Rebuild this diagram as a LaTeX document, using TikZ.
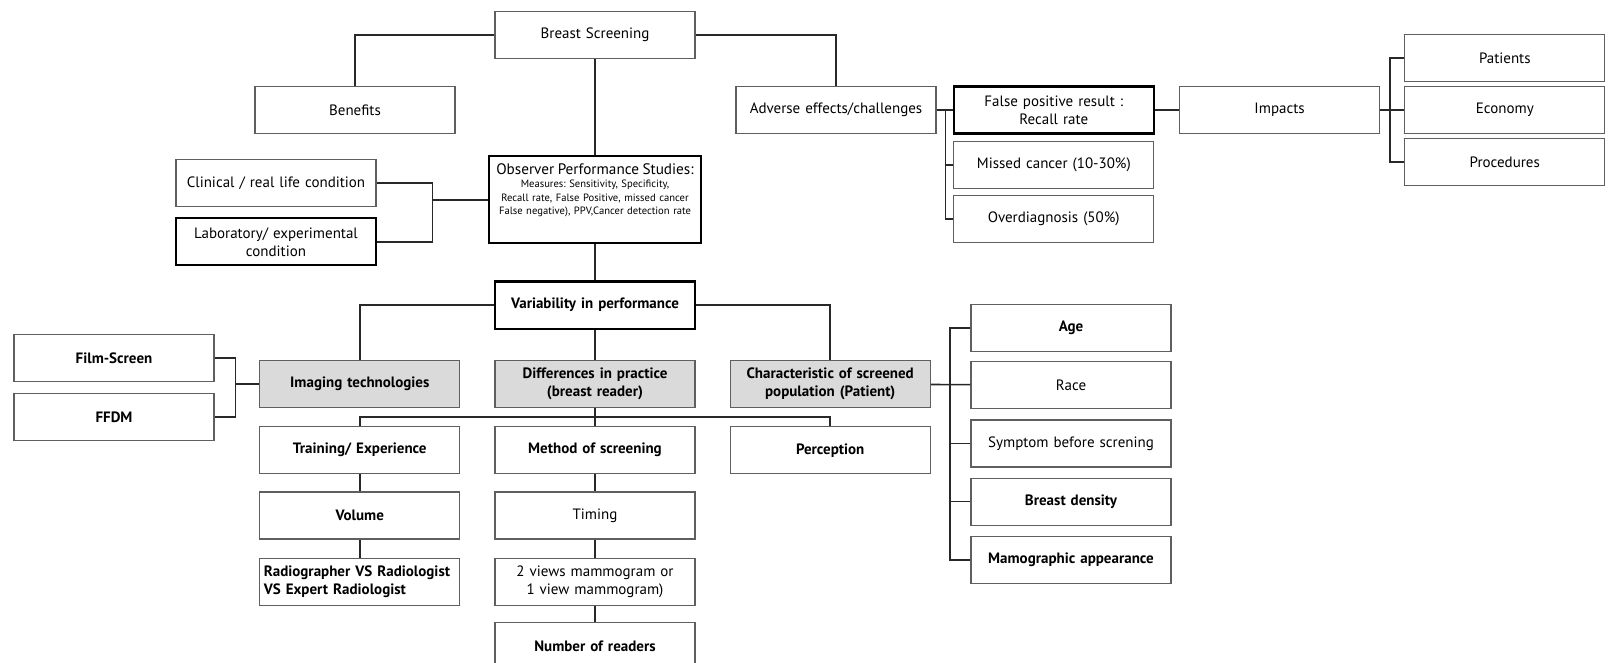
\documentclass[tikz,border=0pt]{standalone}
\usepackage{fontspec}
\setmainfont{PT Sans}
\usepackage{tikz}
\usetikzlibrary{positioning,calc}
\definecolor{boxline}{RGB}{95,95,95}
\definecolor{linkline}{RGB}{40,40,40}
\definecolor{greyfill}{RGB}{218,218,218}
\frenchspacing

\begin{document}
\begin{tikzpicture}[x=0.5pt,y=-0.5pt,
    box/.style={draw=boxline,line width=0.6pt,fill=white,align=center,
                font=\fontsize{7.5}{9}\selectfont,text width=96pt,minimum height=23.5pt,inner sep=2pt},
    heavy/.style={box,draw=black,line width=1.2pt},
    strong/.style={font=\fontsize{7.5}{9}\selectfont\bfseries},
    shaded/.style={box,strong,fill=greyfill},
    link/.style={draw=linkline,line width=0.8pt}]
  \useasboundingbox (0,0) rectangle (1611,663);
  % top row
  \node[box] (bs) at (595,35) {Breast Screening};
  \node[box] (ben) at (355,110) {Benefits};
  \node[box] (adv) at (836,110) {Adverse effects/challenges};
  \node[heavy,right=8pt of adv] (fp) {False positive result :\\Recall rate};
  \node[box,below=3pt of fp] (mc) {Missed cancer (10-30\%)};
  \node[box,below=3pt of mc] (od) {Overdiagnosis (50\%)};
  \node[box,right=12pt of fp] (imp) {Impacts};
  \node[box,right=12pt of imp] (eco) {Economy};
  \node[box,above=2pt of eco] (pat) {Patients};
  \node[box,below=2pt of eco] (pro) {Procedures};
  % middle
  \node[shaded] (dif) at (595,384) {Differences in practice\\(breast reader)};
  \node[heavy,strong,above=15pt of dif] (var) {Variability in performance};
  \node[heavy,font=\fontsize{5.3}{6.8}\selectfont,text width=102pt,minimum height=43.5pt,above=18pt of var] (obs)
       {\mbox{\fontsize{7.6}{9.5}\selectfont Observer Performance Studies:}\\
        Measures: Sensitivity, Specificity,\\
        Recall rate, False Positive, missed cancer\\
        False negative), PPV,Cancer detection rate\\[4pt]\mbox{}};
  \node[box] (cli) at (276,183) {Clinical / real life condition};
  \node[heavy,below=5pt of cli] (lab) {Laboratory/ experimental\\condition};
  \node[shaded,left=17pt of dif] (img) {Imaging technologies};
  \node[shaded,right=17pt of dif] (cha) {Characteristic of screened\\population (Patient)};
  \node[box,strong] (film) at (114,358) {Film-Screen};
  \node[box,strong,below=5.5pt of film] (ffdm) {FFDM};
  % lower rows
  \node[box,strong,below=9pt of img] (trn) {Training/ Experience};
  \node[box,strong,below=9pt of dif] (met) {Method of screening};
  \node[box,strong,below=9pt of cha] (per) {Perception};
  \node[box,strong,below=8.5pt of trn] (vol) {Volume};
  \node[box,strong,align=left,below=9pt of vol] (rad) {Radiographer VS Radiologist\\VS Expert Radiologist};
  \node[box,below=8.5pt of met] (tim) {Timing};
  \node[box,below=9pt of tim] (two) {2 views mammogram or\\1 view mammogram)};
  \node[box,strong,below=8pt of two] (nr) {Number of readers};
  \node[box,strong] (age) at (1071,328) {Age};
  \node[box,below=4.5pt of age] (race) {Race};
  \node[box,below=5pt of race] (sym) {Symptom before screning};
  \node[box,strong,below=5pt of sym] (bd) {Breast density};
  \node[box,strong,below=5pt of bd] (mam) {Mamographic appearance};
  % connectors
  \draw[link] (bs.west) -| (ben.north);
  \draw[link] (bs.east) -| (adv.north);
  \foreach \u/\v in {bs/obs,obs/var,var/dif,dif/met,trn/vol,vol/rad,met/tim,tim/two,two/nr,fp/imp,imp/eco,cha/race}
    \draw[link] (\u) -- (\v);
  \draw[link] (var.west) -| (img.north);
  \draw[link] (var.east) -| (cha.north);
  \coordinate (bus) at ($(dif.south)!0.5!(met.north)$);
  \draw[link] (trn.north) |- (bus) -| (per.north);
  \coordinate (jc) at ([xshift=28pt]cli.east);
  \draw[link] (cli.east) -- (jc) |- (lab.east);
  \draw[link] (obs.west) -- (obs.west -| jc);
  \coordinate (jf) at ([xshift=10.5pt]film.east);
  \draw[link] (film.east) -- (jf) |- (ffdm.east);
  \draw[link] (img.west) -- (img.west -| jf);
  \coordinate (ja) at ([xshift=4.5pt]adv.east);
  \draw[link] (adv.east) -- (ja) |- (od.west);
  \draw[link] (ja) -- (fp.west);
  \draw[link] (mc.west -| ja) -- (mc.west);
  \coordinate (ji) at ([xshift=5pt]imp.east);
  \draw[link] (pat.west) -| (ji |- pro.west) -- (pro.west);
  \coordinate (jp) at ([xshift=9.5pt]cha.east);
  \draw[link] (age.west) -| (jp |- mam.west) -- (mam.west);
  \foreach \n in {sym,bd} \draw[link] (jp |- \n.west) -- (\n.west);
\end{tikzpicture}
\end{document}
